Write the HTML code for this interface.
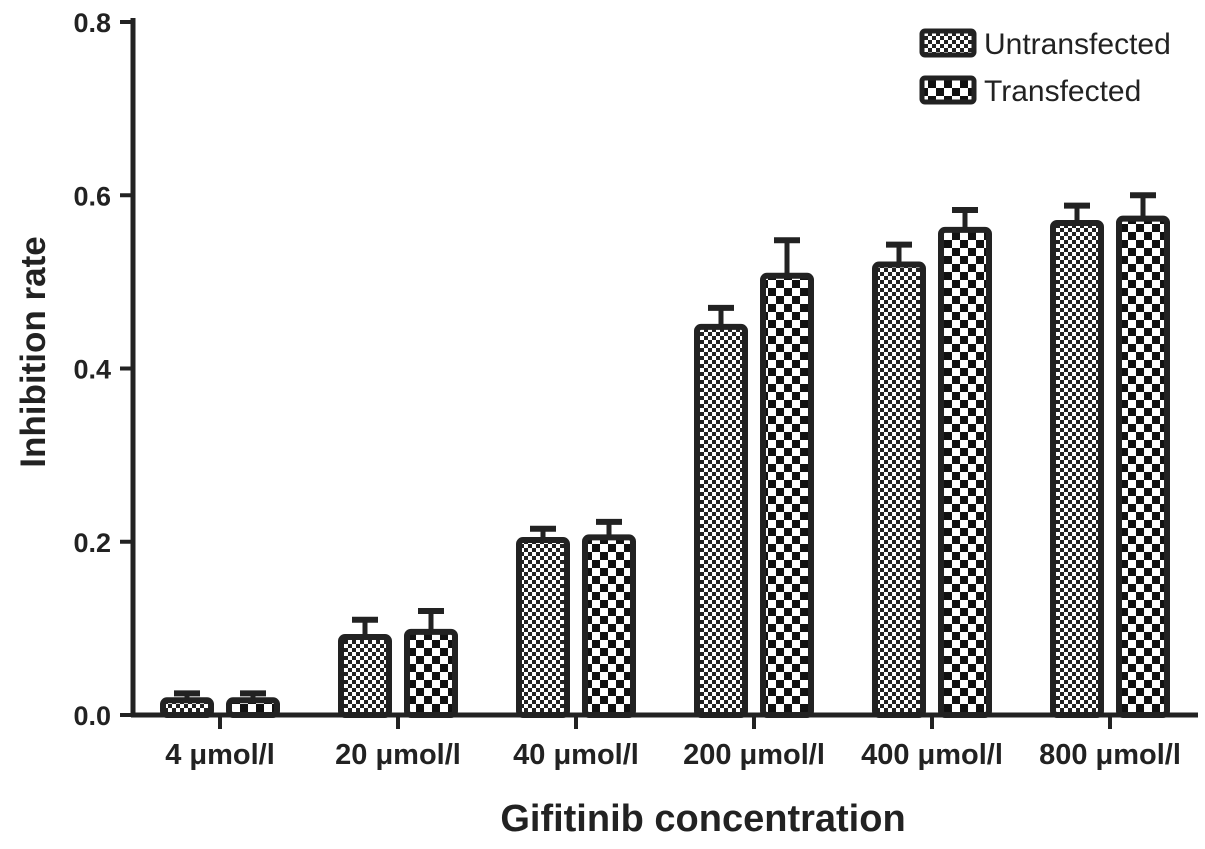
<!DOCTYPE html>
<html><head><meta charset="utf-8"><style>
html,body{margin:0;padding:0;background:#fff;}
svg text{font-family:"Liberation Sans",Arial,sans-serif;font-weight:bold;fill:#222;}
</style></head><body>
<svg id="chart" width="1205" height="844" viewBox="0 0 1205 844" xmlns="http://www.w3.org/2000/svg">
<defs>
<pattern id="pU" width="8" height="8" patternUnits="userSpaceOnUse">
<rect width="8" height="8" fill="#fff"/><rect width="4" height="4" fill="#222"/><rect x="4" y="4" width="4" height="4" fill="#222"/>
</pattern>
<pattern id="pT" width="16" height="16" patternUnits="userSpaceOnUse">
<rect width="16" height="16" fill="#fff"/><rect width="8" height="8" fill="#111"/><rect x="8" y="8" width="8" height="8" fill="#111"/>
</pattern>
</defs>
<g id="axes"></g>
<g id="bars"></g>
<g>
<rect x="922" y="31" width="52" height="24" rx="3" fill="url(#pU)" stroke="#222" stroke-width="5"/>
<text x="984" y="54" font-size="30" style="font-weight:normal">Untransfected</text>
<rect x="922" y="78" width="52" height="24" rx="3" fill="url(#pT)" stroke="#222" stroke-width="5"/>
<text x="984" y="101" font-size="30" style="font-weight:normal">Transfected</text>
</g>
<text transform="translate(45,352) rotate(-90)" text-anchor="middle" font-size="35">Inhibition rate</text>
<text x="703" y="831" text-anchor="middle" font-size="38">Gifitinib concentration</text>
</svg>
<script>
const categories = ["4 μmol/l","20 μmol/l","40 μmol/l","200 μmol/l","400 μmol/l","800 μmol/l"];
const untransfected = [0.017,0.090,0.202,0.448,0.520,0.568];
const untransfectedErr = [0.008,0.020,0.013,0.022,0.023,0.020];
const transfected = [0.017,0.096,0.205,0.507,0.560,0.573];
const transfectedErr = [0.008,0.024,0.018,0.041,0.023,0.027];
const yTicks = [0.0,0.2,0.4,0.6,0.8];

const NS="http://www.w3.org/2000/svg";
const y0=715, yTop=22, yMax=0.8;
const Y=v=>y0-(v/yMax)*(y0-yTop);
const X=i=>220+i*178;
function mk(tag,attrs,parent){const e=document.createElementNS(NS,tag);for(const k in attrs)e.setAttribute(k,attrs[k]);parent.appendChild(e);return e;}
const axes=document.getElementById('axes'), bars=document.getElementById('bars');
let l=mk('line',{x1:133,y1:18,x2:133,y2:717,stroke:'#222','stroke-width':5},axes);


l=mk('line',{x1:131,y1:715,x2:1198,y2:715,stroke:'#222','stroke-width':5},axes);


yTicks.forEach(t=>{
 const tk=mk('line',{x1:120,y1:Y(t),x2:133,y2:Y(t),stroke:'#222','stroke-width':4},axes);
 
 
 const tx=mk('text',{x:111,y:Y(t)+10,'text-anchor':'end','font-size':27},axes);
 tx.textContent=t.toFixed(1);
 
 
});
categories.forEach((c,i)=>{
 const cx=X(i);
 const tk=mk('line',{x1:cx,y1:715,x2:cx,y2:729,stroke:'#222','stroke-width':4},axes);
 
 
 const tx=mk('text',{x:cx,y:764,'text-anchor':'middle','font-size':29},axes);
 tx.textContent=c;
 
 
 [[untransfected,untransfectedErr,cx-57,'pU','untransfected'],[transfected,transfectedErr,cx+9,'pT','transfected']].forEach(([vals,errs,x,p,nm])=>{
  const v=vals[i], e=errs[i], w=48, mid=x+w/2;
  const el=mk('line',{x1:mid,y1:Y(v),x2:mid,y2:Y(v+e),stroke:'#222','stroke-width':5},bars);
  
  
  const cap=mk('line',{x1:mid-13,y1:Y(v+e),x2:mid+13,y2:Y(v+e),stroke:'#222','stroke-width':6},bars);
  
  
  const r=mk('rect',{x:x,y:Y(v),width:w,height:y0-Y(v),rx:4,fill:'url(#'+p+')',stroke:'#222','stroke-width':6},bars);
  
  
 });
});
</script>
</body></html>
